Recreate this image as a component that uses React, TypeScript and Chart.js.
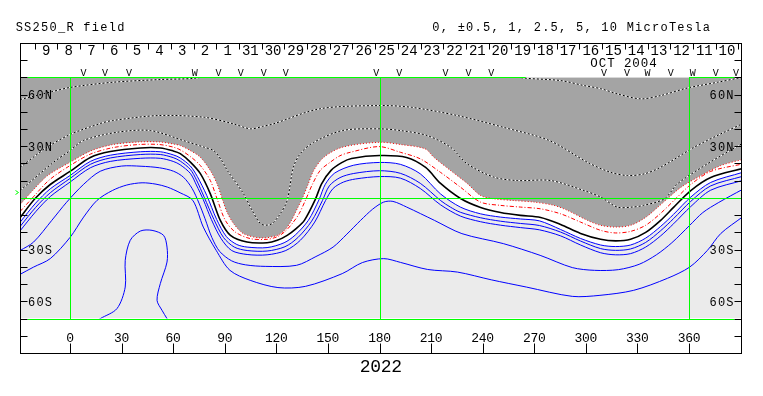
import React, { useEffect, useRef } from "react";
import { Chart, registerables } from "chart.js";

Chart.register(...registerables);

type P = [number, number];

// ---- contour lines: [longitude, latitude] ----
const neutralLine: P[] = [[-29,-11.3],[-20.3,-0.3],[-11.5,7.8],[0,15.4],[11.8,23.5],[23.4,26.9],[40.9,29],[52.5,29],[60,27.3],[64.1,25.7],[70,20.8],[75.8,14.1],[81.6,2.4],[87.4,-13],[93.3,-21.7],[102.9,-25.6],[114.6,-26],[120.5,-24.6],[126.3,-21.7],[131.5,-17.8],[136.3,-13],[142.6,-1],[146.3,8.2],[151.8,16],[158,20.5],[163.7,22.9],[180,24.6],[195.7,23.5],[206.8,17.7],[215.5,8.4],[227.1,-0.3],[238.8,-5.5],[250.4,-8.4],[262,-10.1],[273.7,-11.3],[285.3,-15.4],[296.9,-20.6],[308.6,-24],[317.3,-24.9],[326,-24],[334.8,-20],[343.5,-13],[351,-5.5],[361,4.3],[372.6,11.9],[391,17.1]];

const redDashDot: P[] = [[-29,-7.8],[-21,1],[-12,10.5],[0,18.8],[12,25.5],[25,29.2],[40,31],[52,31],[60,29.5],[64.1,27.9],[70,24],[75.8,18.8],[81.6,10.1],[85.5,-0.5],[90.3,-13],[96.1,-19.8],[104.9,-23.6],[114.6,-24],[120.5,-22.5],[125,-19.5],[129.5,-14.5],[133.3,-9],[137.5,0],[141,8],[145.5,16],[151,20.5],[157,24.5],[163,26.5],[179.7,29.8],[192.1,26.5],[203.7,22.7],[215.4,14.9],[227,6.3],[238.7,-2.4],[250.3,-4.3],[262,-5.3],[273.6,-6.3],[285.3,-9.2],[296.9,-14],[308.6,-18.8],[317.2,-20.3],[326,-19.4],[334.7,-15.9],[343.4,-9],[352.2,-0.5],[361,7.8],[372.6,15.4],[391,19.7]];

const redDotted: P[] = [[-29,-3.8],[-22,4],[-13,13],[0,20.7],[12,27.3],[25,31],[40,32.5],[52,32.5],[60,31.3],[64.1,30.4],[69.9,27.5],[75.8,23.6],[81.6,15.9],[85.5,8.2],[88.5,-0.5],[91.3,-8.2],[95.2,-15],[101,-20.8],[110.7,-23.2],[120.4,-21.8],[125,-18.5],[128.5,-13.5],[132,-6.5],[135.2,0],[138.5,8],[141.7,15.9],[147.6,23.6],[158.3,29.4],[179.7,32.3],[192.2,31],[206.5,28.5],[211.6,23.6],[221.3,15.9],[231,8.4],[238.8,1.4],[246.5,-0.5],[258,-1.5],[269.8,-2.4],[281.4,-4.3],[289.2,-7.2],[300.9,-13],[308.6,-15.9],[317.2,-16.9],[326,-15.9],[334.7,-11.3],[341.7,-5.5],[347.4,-0.5],[355.2,6.1],[366.9,13],[378.5,18.8],[391,22.3]];

const blueLevel1: P[] = [[-29,-14],[-20,-3],[-11.5,5.3],[0,13],[11.8,21.2],[23.4,24.8],[40.9,26.8],[52.5,26.8],[60,25],[64.1,23.2],[70,18.5],[74,12.5],[79.5,1.5],[85.3,-12.5],[91,-22.5],[97,-27],[103,-28.5],[114.6,-28.8],[124.5,-26],[131,-21.5],[138.6,-13],[144.8,-1],[148.5,8],[154,14.5],[165,19],[180,20.6],[192.1,19.5],[203.7,14],[215.4,2.4],[227,-5.3],[238.7,-9.2],[250.3,-11.1],[262,-12.2],[273,-13.3],[285.3,-18.3],[296.9,-23.5],[308.6,-27.3],[317.3,-28.2],[326,-27.3],[334.8,-23.3],[343.5,-16.5],[351,-9.5],[361,0.5],[372.6,9],[391,14.8]];

const blueLevel2: P[] = [[-29,-16.5],[-20,-5.5],[-11.5,3],[0,11.3],[11.8,19.5],[23.4,23.2],[40.9,25.2],[52.5,25.2],[60,23.4],[64.1,21.4],[70,16.5],[73.5,10.5],[78,0.5],[83.7,-12.5],[89.3,-23],[95.5,-28.5],[103,-30.5],[114.6,-30.8],[125,-28.3],[132.5,-23],[140.5,-13.5],[146.8,-1.5],[150.8,7],[157,11.8],[165,14.2],[180,15.8],[192.1,14.3],[203.7,8.5],[215.5,-1.5],[221.2,-5.3],[227,-8.3],[238.8,-11.5],[250.4,-13.5],[262,-14.8],[273,-16],[285.3,-19.8],[296.9,-25],[308.6,-29.4],[317.3,-30.4],[326,-29.6],[334.8,-25.8],[343.5,-19],[351,-12],[361,-2],[372.6,7],[391,12.5]];

const blueLevel3: P[] = [[-29,-19],[-20,-8],[-11.5,0.8],[0,9.2],[11.8,17.5],[23.4,21.2],[40.9,23],[52.5,23],[60,21.2],[64.1,19.2],[70,14.2],[73.5,7.5],[77.5,-1],[82.2,-12.5],[87.8,-23.5],[94,-30.5],[103,-32.8],[114.6,-33],[125.5,-30.5],[134,-24.5],[142.3,-14],[148.6,-1.5],[153,5.5],[159,9.2],[166,11],[180,12.4],[192.1,11.5],[203.7,5.5],[215.5,-4],[227,-10.5],[238.8,-13.8],[250.4,-15.8],[262,-17.2],[273,-18.5],[285.3,-22],[296.9,-27.3],[308.6,-31.8],[317.3,-33],[326,-32.3],[334.8,-28.5],[343.5,-22],[351,-15],[361,-5],[372.6,4.5],[391,10.1]];

const blueLevel4: P[] = [[-29,-30.5],[-21.2,-25.6],[-10.6,-13],[-2,-2.5],[8,8],[17.6,15.5],[30,18.5],[41.3,18.4],[52,17.5],[60.2,15.5],[66,12],[71,5.5],[75,-3],[78.5,-12],[82.5,-23],[87,-31],[94,-36.5],[102,-38.8],[113.5,-39.7],[131.7,-39.1],[143,-34],[153,-28.5],[161,-21],[169,-13],[176,-6.5],[182.4,-2.4],[187.8,-2],[195.8,-5.3],[211.9,-13],[227.9,-20.7],[252,-26.5],[273.4,-33.3],[292.1,-40.4],[305,-42],[318.9,-41.6],[331,-38.5],[341,-33],[350,-26],[360.4,-15.9],[368,-8.5],[377.3,-2.6],[391,4.9]];

const blueLevel5: P[] = [[-29,-44.3],[-21.2,-40.1],[-11.5,-35.2],[0,-22.9],[7.9,-11.1],[15.7,-1.4],[24.6,4.3],[33,7.5],[41.9,8.8],[50,8],[56.6,6.3],[64,3],[71.4,-1.4],[77.5,-16.9],[85,-30.4],[93,-42],[104.8,-47.8],[120.9,-52],[136.9,-51.3],[158.3,-43.9],[170,-37.5],[182.4,-35.2],[192.2,-37.4],[208,-41.5],[225.3,-43],[245,-47.5],[265.4,-51.7],[292.1,-57.1],[308.2,-56.5],[327.8,-53.6],[347.5,-46.6],[360.4,-40.1],[370.7,-30.4],[378.5,-20.6],[391,-11.1]];

const blueBubble: P[] = [[14.5,-72],[17.6,-70],[27.3,-64.2],[32.1,-51.7],[32.1,-36.2],[35,-24.6],[40.9,-19.2],[47.7,-18.8],[54.4,-21.7],[56.4,-28.5],[56.4,-37.2],[52.5,-49.7],[50.6,-59.4],[53.5,-65.2],[56.4,-70],[57.6,-72]];

const dottedMid: P[] = [[-29,17.7],[-14.4,28.7],[0,36.8],[17.6,43.2],[24.6,44.9],[51.3,47.8],[78.1,46.8],[95,43],[104.9,40.1],[112,41.5],[118.3,43],[145.1,51.7],[179.7,53.6],[198.5,52.6],[225.3,47.8],[252,41],[278.8,33.3],[300.9,20.7],[314,15],[324.2,13],[334,14],[343.5,17.8],[362.9,29.4],[378.5,37.2],[391,43]];

const dottedLow: P[] = [[-29,4.3],[-9.6,20.7],[0,27.5],[7.7,33.3],[27.3,38.1],[46.7,39.1],[65.9,33.3],[78.1,29.4],[83.5,27.5],[88,22],[91.5,15.9],[100.8,2.6],[105.9,-7.2],[110.7,-14.9],[114,-15.8],[117.5,-14.9],[122.4,-9],[126.3,-1.4],[129.9,17.8],[134,25.8],[141.6,32.2],[158.4,39.1],[179.7,40.1],[192.2,39.1],[207.7,36.2],[221.3,29.4],[231,19.8],[246.5,12.1],[260.1,10.1],[279.5,10.1],[298.9,4.3],[308.6,0.5],[318.3,-5.3],[326.9,-5.3],[333.6,-4.3],[345.7,-0.5],[353.3,8.2],[370.7,19.8],[391,31.6]];

const dottedTop: P[] = [[-29,57.1],[-10.4,61.7],[0.5,64.2],[24.6,67.1],[52.5,68.7],[71.9,69.4],[84.5,71.5],[110,74],[180,76],[240,74],[255,71.5],[263.9,69.6],[285.3,68.1],[298.9,65.2],[308.6,63.4],[318.3,60.4],[331.8,57.5],[343.5,59.4],[359.1,63.8],[376.5,67.1],[391,70]];

// ---- axes / labels ----
const lonTicks = [0, 30, 60, 90, 120, 150, 180, 210, 240, 270, 300, 330, 360];
const latTicks = [-80, -70, -60, -50, -40, -30, -20, -10, 10, 20, 30, 40, 50, 60, 70, 80];
const latLabelValues = [60, 30, -30, -60];
const latLabelTexts = ["60N", "30N", "30S", "60S"];
const dayLabels = ["9","8","7","6","5","4","3","2","1","31","30","29","28","27","26","25","24","23","22","21","20","19","18","17","16","15","14","13","12","11","10"];
const dayStartLon = -20.53;
const dayStepLon = 13.2;
const markerLons = [7.8, 20.4, 34.3, 72.5, 86.4, 99.3, 112.7, 125.4, 178.1, 191.5, 218.3, 231.7, 245, 310.5, 323.9, 335.9, 349.3, 362.1, 375.5, 387.3];
const markerGlyphs = ["V","V","V","W","V","V","V","V","V","V","V","V","V","V","V","W","V","W","V","V"];
const greenLons = [0, 180, 360];
const topGreenSpans: P[] = [[-29.1, 265], [360, 390.4]];
const earthLat = 3.2;
const titleText = "SS250_R field";
const levelsText = "0, \u00b10.5, 1, 2.5, 5, 10 MicroTesla";
const monthText = "OCT 2004";
const monthLon = 321.9;
const rotationText = "2022";

const DARK = "#a4a4a4";
const LIGHT = "#ebebeb";
const FONT = '"Liberation Mono", "DejaVu Sans Mono", monospace';

function mono(ctx: CanvasRenderingContext2D, text: string, x: number, y: number, size: number, adv: number, align: string) {
  ctx.font = `${size}px ${FONT}`;
  ctx.textAlign = "center";
  ctx.textBaseline = "alphabetic";
  const w = text.length * adv;
  const x0 = align === "center" ? x - w / 2 : align === "right" ? x - w : x;
  for (let i = 0; i < text.length; i++) ctx.fillText(text[i], x0 + adv * (i + 0.5), y);
}

const toXY = (pts: P[]) => pts.map(([x, y]) => ({ x, y }));

function line(pts: P[], color: string, width: number, dash: number[], order: number, extra: any = {}) {
  return {
    data: toXY(pts),
    showLine: true,
    borderColor: color,
    borderWidth: width,
    borderDash: dash,
    pointRadius: 0,
    pointHoverRadius: 0,
    tension: 0.3,
    fill: false,
    order,
    ...extra,
  };
}

const decor = {
  id: "mapDecor",
  afterDatasetsDraw(chart: any) {
    const ctx: CanvasRenderingContext2D = chart.ctx;
    const xs = chart.scales.x, ys = chart.scales.y, ca = chart.chartArea;
    const X = (v: number) => xs.getPixelForValue(v);
    const Y = (v: number) => ys.getPixelForValue(v);
    const c = (v: number) => Math.round(v) + 0.5;
    const R = Math.floor(ca.right) + 0.5;
    const L = Math.round(ca.left) + 0.5;
    ctx.save();
    ctx.strokeStyle = "#00ff00";
    ctx.lineWidth = 1;
    ctx.setLineDash([]);
    ctx.beginPath();
    for (const lon of greenLons) {
      const x = c(X(lon));
      ctx.moveTo(x, c(Y(70)));
      ctx.lineTo(x, c(Y(-70)));
    }
    ctx.moveTo(L, c(Y(0)));
    ctx.lineTo(R, c(Y(0)));
    ctx.moveTo(L + 7, c(Y(-70)));
    ctx.lineTo(R - 7, c(Y(-70)));
    for (const [a, b] of topGreenSpans) {
      ctx.moveTo(Math.max(L + 7, X(a)), c(Y(70)));
      ctx.lineTo(Math.min(R - 7, X(b)), c(Y(70)));
    }
    ctx.stroke();
    const ey = c(Y(earthLat));
    ctx.beginPath();
    ctx.moveTo(L - 5, ey - 2);
    ctx.lineTo(L - 2, ey);
    ctx.lineTo(L - 5, ey + 2);
    ctx.stroke();
    ctx.restore();
  },
  afterDraw(chart: any) {
    const ctx: CanvasRenderingContext2D = chart.ctx;
    const xs = chart.scales.x, ys = chart.scales.y, ca = chart.chartArea;
    const X = (v: number) => xs.getPixelForValue(v);
    const Y = (v: number) => ys.getPixelForValue(v);
    const c = (v: number) => Math.round(v) + 0.5;
    const L = Math.round(ca.left) + 0.5;
    const R = Math.floor(ca.right) + 0.5;
    const T = c(Y(90));
    const B = c(Y(-90));
    ctx.save();
    ctx.strokeStyle = "#000";
    ctx.fillStyle = "#000";
    ctx.lineWidth = 1;
    ctx.setLineDash([]);
    ctx.strokeRect(L, T, R - L, B - T);
    ctx.beginPath();
    for (const lat of latTicks) {
      const y = c(Y(lat));
      ctx.moveTo(L, y); ctx.lineTo(L + 7, y);
      ctx.moveTo(R - 7, y); ctx.lineTo(R, y);
    }
    for (const lon of lonTicks) {
      const x = c(X(lon));
      ctx.moveTo(x, B); ctx.lineTo(x, B - 10);
    }
    for (let k = 0; k <= dayLabels.length; k++) {
      const x = c(X(dayStartLon + k * dayStepLon));
      ctx.moveTo(x, T); ctx.lineTo(x, T + 6);
    }
    ctx.stroke();

    // texts
    mono(ctx, titleText, 15, T - 13, 12, 8.46, "left");
    mono(ctx, levelsText, 431.7, T - 13, 12, 8.45, "left");
    for (let k = 0; k < dayLabels.length; k++) {
      mono(ctx, dayLabels[k], X(dayStartLon + (k + 0.5) * dayStepLon), T + 11.5, 14, 8.4, "center");
    }
    mono(ctx, monthText, X(monthLon), T + 23, 12.5, 8.4, "center");
    ctx.font = `10px ${FONT}`;
    ctx.textAlign = "center";
    ctx.textBaseline = "alphabetic";
    for (let i = 0; i < markerLons.length; i++) {
      ctx.fillText(markerGlyphs[i], X(markerLons[i]), c(Y(70)) - 2);
    }
    for (let i = 0; i < latLabelValues.length; i++) {
      const y = Y(latLabelValues[i]) + 4.5;
      mono(ctx, latLabelTexts[i], L + 7, y, 12, 8.33, "left");
      mono(ctx, latLabelTexts[i], R - 7.5, y, 12, 8.33, "right");
    }
    for (const lon of lonTicks) {
      mono(ctx, String(lon), X(lon), B - 11.5, 13, 7.5, "center");
    }
    mono(ctx, rotationText, (L + R) / 2, B + 18, 18, 10.5, "center");
    ctx.restore();
  },
};

export default function App() {
  const ref = useRef<HTMLCanvasElement | null>(null);
  useEffect(() => {
    if (!ref.current) return;
    const datasets: any[] = [
      line(redDotted, "#ff0000", 1, [1, 2], 1, { fill: "end", backgroundColor: DARK }),
      line(blueLevel1, "#0000ff", 1, [], 1, { fill: "start", backgroundColor: LIGHT }),
      line(neutralLine, "#000000", 1.6, [], 0),
      line(redDashDot, "#ff0000", 1, [4, 2, 1, 2], 1),
      line(blueLevel2, "#0000ff", 1, [], 1),
      line(blueLevel3, "#0000ff", 1, [], 1),
      line(blueLevel4, "#0000ff", 1, [], 1),
      line(blueLevel5, "#0000ff", 1, [], 1),
      line(blueBubble, "#0000ff", 1, [], 1),
      line(dottedMid, "#ffffff", 1, [], 3),
      line(dottedMid, "#000000", 1, [2, 2], 2),
      line(dottedLow, "#ffffff", 1, [], 3),
      line(dottedLow, "#000000", 1, [2, 2], 2),
      line(dottedTop, "#ffffff", 1, [], 3),
      line(dottedTop, "#000000", 1, [2, 2], 2),
    ];
    const chart = new Chart(ref.current, {
      type: "scatter",
      data: { datasets },
      options: {
        animation: false,
        responsive: false,
        maintainAspectRatio: false,
        devicePixelRatio: 1,
        events: [],
        layout: { padding: { left: 20, right: 21.7, top: 77.3, bottom: 77.4 } },
        scales: {
          x: { type: "linear", min: -29.1, max: 390.4, display: false },
          y: { type: "linear", min: -70, max: 70, display: false },
        },
        elements: { line: { capBezierPoints: false }, point: { radius: 0 } },
        plugins: {
          legend: { display: false },
          tooltip: { enabled: false },
          filler: { drawTime: "beforeDatasetsDraw" },
        },
      } as any,
      plugins: [decor],
    });
    return () => chart.destroy();
  }, []);
  return (
    <div style={{ position: "absolute", left: 0, top: 0, width: 763, height: 396, background: "#fff" }}>
      <canvas ref={ref} width={763} height={396} style={{ display: "block", width: 763, height: 396 }} />
    </div>
  );
}
